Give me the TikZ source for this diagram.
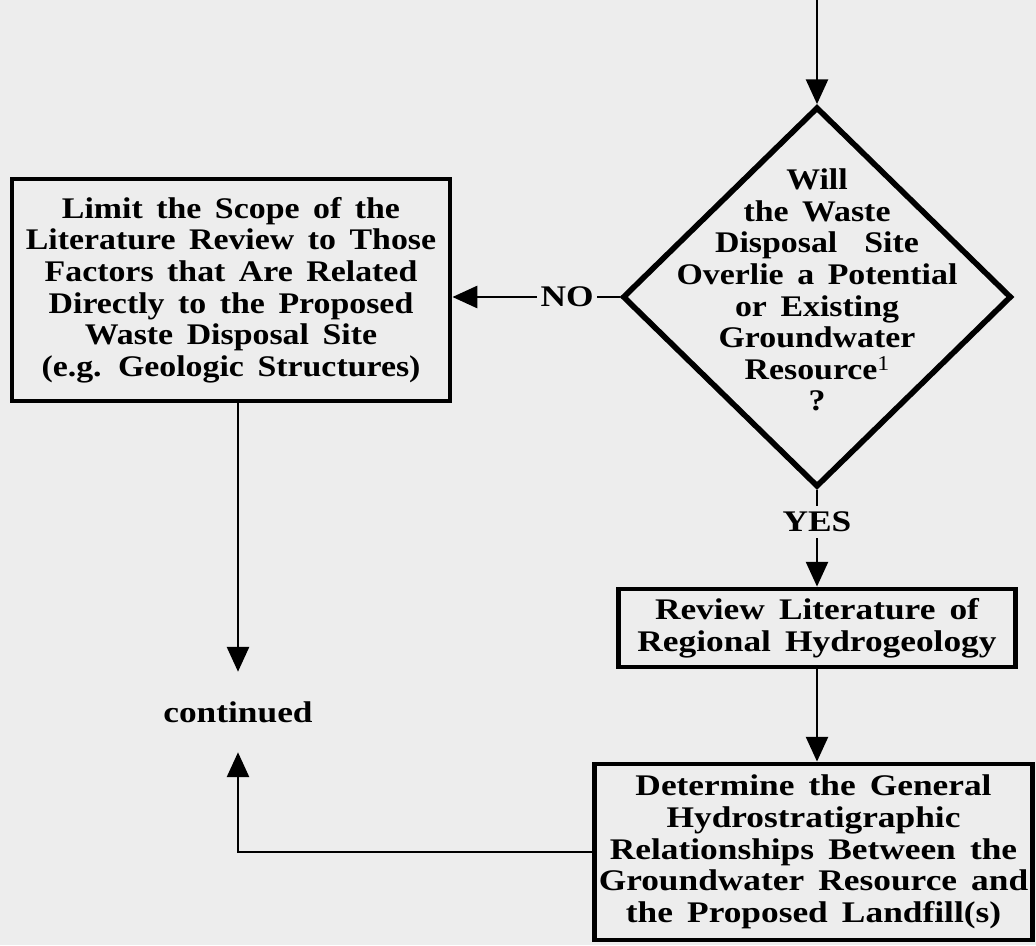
\documentclass[tikz,border=0pt]{standalone}
\usepackage{fontspec}
\setmainfont{Liberation Serif}[FakeStretch=1.18,WordSpace=1.6]
\newfontfamily\tightserif{Liberation Serif}[FakeStretch=1.13,WordSpace=1.6]
\usetikzlibrary{arrows.meta,shapes.geometric}

\begin{document}
\begin{tikzpicture}[x=0.025cm, y=-0.025cm,
		txt/.style={font=\fontsize{21.3}{22.5}\selectfont\bfseries, align=center},
		tight/.style={font=\fontsize{21.3}{22.5}\selectfont\tightserif\bfseries},
		stepbox/.style={txt, draw, line width=3.4pt, inner sep=0pt},
		decision/.style={draw, diamond, line width=4pt, inner sep=0pt},
		flow/.style={line width=1.8pt, -{Triangle[length=0.62cm, width=0.55cm]}},
		plain/.style={line width=1.8pt}]
			%%%%% START %%%%%
			
			\fill[black!7] (0,0) rectangle (1036,945);
			\useasboundingbox (0,0) rectangle (1036,945);
			
			% question
			\coordinate (entry) at (817,0);
			\node[decision, minimum width=9.72cm, minimum height=9.5cm] (q) at (817,297) {};
			\node[txt, tight] (qtext) at (817,290) {Will\\the Waste\\Disposal~ Site\\Overlie a Potential\\or Existing\\Groundwater\\Resource\raisebox{0.3em}{\fontsize{15}{15}\selectfont\mdseries 1}\\?};
			\draw[flow] (entry) -- (q.north);
			
			% NO branch
			\node[txt, inner sep=0.08cm] (no) at (567,297) {NO};
			\node[stepbox, tight, minimum width=10.95cm, minimum height=5.55cm] (limit) at (231,290) {Limit the Scope of the\\Literature Review to Those\\Factors that Are Related\\Directly to the Proposed\\Waste Disposal Site\\(e.g. Geologic Structures)};
			\draw[plain] (q.west) -- (no.east);
			\draw[flow] (no.west) -- (no.west -| limit.east);
			
			% YES branch
			\node[txt, inner sep=0.15cm] (yes) at (817,522) {YES};
			\node[stepbox, minimum width=9.93cm, minimum height=1.95cm] (review) at (817,628) {Review Literature of\\Regional Hydrogeology};
			\node[stepbox, minimum width=10.93cm, minimum height=4.4cm] (det) at (813.5,852) {Determine the General\\Hydrostratigraphic\\Relationships Between the\\Groundwater Resource and\\the Proposed Landfill(s)};
			\draw[plain] (q.south) -- (yes.north);
			\draw[flow] (yes.south) -- (review.north);
			\draw[flow] (review.south) -- (det.north -| review.south);
			
			% continued
			\node[txt, minimum height=2cm, inner sep=0pt] (cont) at (238,712) {continued};
			\draw[flow] (limit.south -| cont) -- (cont.north);
			\draw[flow] (det.west) -| (cont.south);
			
			%%%%% END %%%%%
\end{tikzpicture}
\end{document}
